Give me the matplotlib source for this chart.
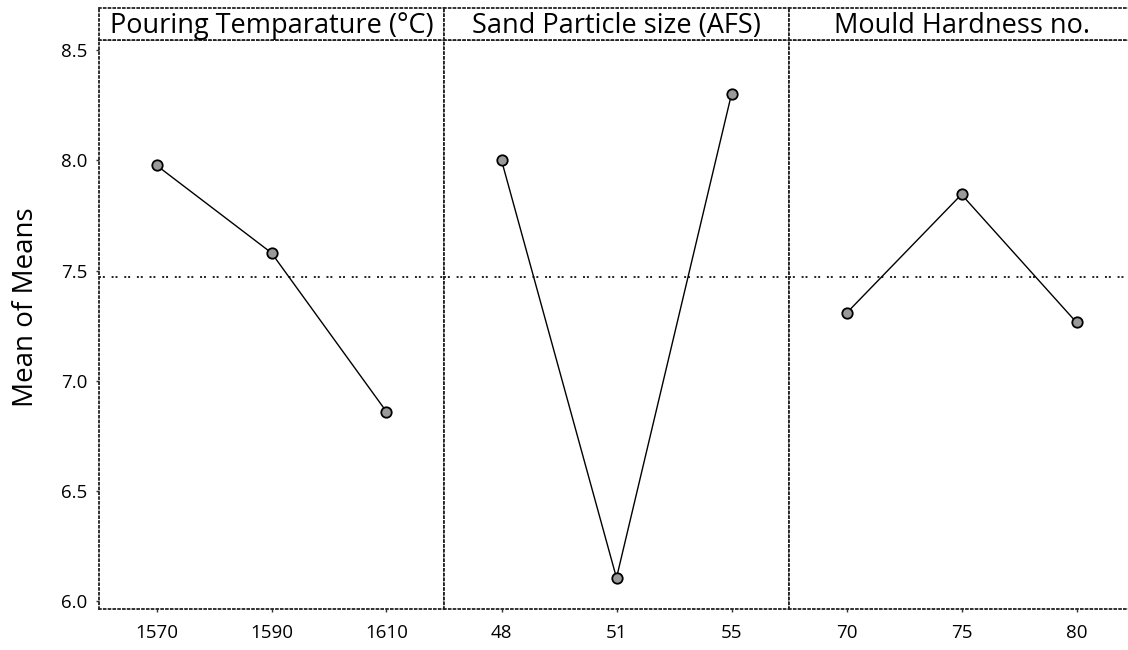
import matplotlib
matplotlib.use("Agg")
import matplotlib.pyplot as plt

titles = ["Pouring Temparature (°C)", "Sand Particle size (AFS)", "Mould Hardness no."]
levels = [["1570", "1590", "1610"], ["48", "51", "55"], ["70", "75", "80"]]
means = [[7.977, 7.58, 6.86], [8.00, 6.107, 8.30], [7.307, 7.845, 7.265]]
grand_mean = 7.47
yticks = [6.0, 6.5, 7.0, 7.5, 8.0, 8.5]

plt.rcParams['font.family'] = ['Open Sans', 'DejaVu Sans']

W, H = 1128, 650
fig = plt.figure(figsize=(W / 100, H / 100), dpi=100)

left, pw = 99, 345
top_data, bottom = 40, 609
head_top = 8
ylim = (5.966, 8.545)

for i in range(3):
    x0 = left + i * pw
    ax = fig.add_axes([x0 / W, 1 - bottom / H, pw / W, (bottom - top_data) / H])
    xs = list(range(len(levels[i])))
    ax.axhline(grand_mean, color='#222222', lw=1.4, linestyle=(0, (1, 1.0, 1, 3.5)), zorder=1)
    ax.plot(xs, means[i], color='black', lw=1.0, zorder=2)
    ax.plot(xs, means[i], linestyle='none', marker='o', ms=7.5, mfc='#9a9a9a',
            mec='black', mew=1.3, zorder=3)
    ax.set_xlim(-0.5, 2.5)
    ax.set_ylim(*ylim)
    ax.set_xticks(xs)
    ax.set_xticklabels(levels[i], fontsize=13.5)
    ax.tick_params(axis='x', length=2.5, width=1, color='#333333', pad=8)
    if i == 0:
        ax.set_yticks(yticks)
        ax.set_yticklabels([f"{v:.1f}" for v in yticks], fontsize=13.5)
        ax.tick_params(axis='y', length=2.5, width=1, color='#333333', pad=6)
        ax.set_ylabel("Mean of Means", fontsize=20)
        ax.yaxis.set_label_coords(-0.17, 0.53)
    else:
        ax.set_yticks([])
    for s in ax.spines.values():
        s.set_linestyle(':')
        s.set_linewidth(1.3)
        s.set_color('#222222')
    # header strip
    hx = fig.add_axes([x0 / W, 1 - top_data / H, pw / W, (top_data - head_top) / H])
    hx.set_xticks([]); hx.set_yticks([])
    for s in hx.spines.values():
        s.set_linestyle(':')
        s.set_linewidth(1.3)
        s.set_color('#222222')
    hx.text(0.5, 0.45, titles[i], ha='center', va='center', fontsize=19.5,
            transform=hx.transAxes)

fig.savefig("out.png", dpi=100)
